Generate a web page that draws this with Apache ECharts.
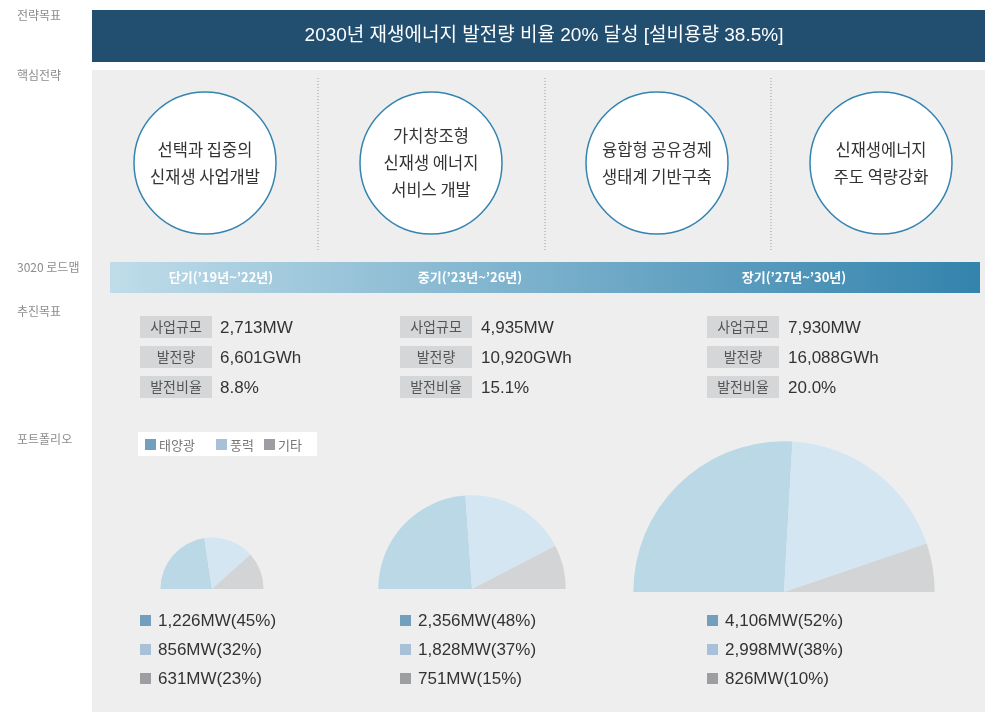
<!doctype html>
<html>
<head>
<meta charset="utf-8">
<title>재생에너지 3020 로드맵</title>
<style>html,body{margin:0;padding:0;background:#fff}#main{width:985px;height:712px}</style>
</head>
<body>
<div id="main"></div>
<script src="https://cdn.jsdelivr.net/npm/echarts@6/dist/echarts.min.js"></script>
<script>
var goalText = '2030년 재생에너지 발전량 비율 20% 달성 [설비용량 38.5%]';
var rowLabels = ['전략목표', '핵심전략', '3020 로드맵', '추진목표', '포트폴리오'];
var strategies = ['선택과 집중의\n신재생 사업개발', '가치창조형\n신재생 에너지\n서비스 개발', '융합형 공유경제\n생태계 기반구축', '신재생에너지\n주도 역량강화'];
var phases = ['단기(’19년~’22년)', '중기(’23년~’26년)', '장기(’27년~’30년)'];
var targetNames = ['사업규모', '발전량', '발전비율'];
var capacity = [2713, 4935, 7930];      // MW
var generation = [6601, 10920, 16088];  // GWh
var ratio = [8.8, 15.1, 20.0];          // %
var sources = ['태양광', '풍력', '기타'];
var solar = [1226, 2356, 4106];
var wind = [856, 1828, 2998];
var other = [631, 751, 826];
var solarPct = [45, 48, 52];
var windPct = [32, 37, 38];
var otherPct = [23, 15, 10];

var FONT = '"Noto Sans CJK KR", "Noto Sans", sans-serif';
var NUMFONT = '"Liberation Sans", "Noto Sans CJK KR", sans-serif';
var sliceColors = ['#bad8e5', '#d4e6f2', '#d3d4d6'];
var keyColors = ['#739fbf', '#a9c1d8', '#9d9ea2'];

var chart = echarts.init(document.getElementById('main'), null, { renderer: 'canvas' });

function fmt(n) { return n.toLocaleString('en-US'); }

var g = [];
// row labels on the left
var labelY = [17, 77, 269, 313, 441];
rowLabels.forEach(function (t, i) {
    g.push({ type: 'text', left: 17, top: labelY[i] - 8,
        style: { text: t, fill: '#8c8c8c', font: '12px ' + FONT } });
});
// goal banner
g.push({ type: 'rect', shape: { x: 92, y: 10, width: 893, height: 52 }, style: { fill: '#224f70' } });
g.push({ type: 'text', x: 544, y: 36,
    style: { text: goalText, fill: '#fff', font: '19px ' + NUMFONT, align: 'center', verticalAlign: 'middle' } });
// grey panel
g.push({ type: 'rect', shape: { x: 92, y: 70, width: 893, height: 642 }, style: { fill: '#eeeeee' } });
// strategy circles
var circleX = [205, 431, 657, 881];
strategies.forEach(function (t, i) {
    g.push({ type: 'circle', shape: { cx: circleX[i], cy: 163, r: 71 },
        style: { fill: '#fff', stroke: '#3484b0', lineWidth: 1.5 } });
    g.push({ type: 'text', x: circleX[i], y: 163,
        style: { text: t, fill: '#333', font: '16.5px ' + FONT, lineHeight: 27, align: 'center', verticalAlign: 'middle' } });
});
[318, 545, 771].forEach(function (x) {
    g.push({ type: 'line', shape: { x1: x, y1: 78, x2: x, y2: 250 },
        style: { stroke: '#9a9a9a', lineWidth: 1, lineDash: [1, 2] } });
});
// roadmap bar
g.push({ type: 'rect', shape: { x: 110, y: 262, width: 870, height: 31 },
    style: { fill: new echarts.graphic.LinearGradient(0, 0, 1, 0, [
        { offset: 0, color: '#bfdce9' }, { offset: 1, color: '#3383ad' }]) } });
var phaseX = [221, 470, 794];
phases.forEach(function (t, i) {
    g.push({ type: 'text', x: phaseX[i], y: 277,
        style: { text: t, fill: '#fff', font: 'bold 13px ' + FONT, align: 'center', verticalAlign: 'middle' } });
});
// targets
var boxX = [140, 400, 707];
var valX = [220, 481, 788];
var rowY = [316, 346, 376];
boxX.forEach(function (bx, c) {
    var vals = [fmt(capacity[c]) + 'MW', fmt(generation[c]) + 'GWh', ratio[c].toFixed(1) + '%'];
    targetNames.forEach(function (n, r) {
        g.push({ type: 'rect', shape: { x: bx, y: rowY[r], width: 72, height: 22 }, style: { fill: '#d5d6d8' } });
        g.push({ type: 'text', x: bx + 36, y: rowY[r] + 11,
            style: { text: n, fill: '#555', font: '14px ' + FONT, align: 'center', verticalAlign: 'middle' } });
        g.push({ type: 'text', x: valX[c], y: rowY[r] + 12,
            style: { text: vals[r], fill: '#333', font: '17px ' + NUMFONT, verticalAlign: 'middle' } });
    });
});
// legend
g.push({ type: 'rect', shape: { x: 138, y: 432, width: 179, height: 24 }, style: { fill: '#fff' } });
var keyX = [145, 216, 264];
sources.forEach(function (s, i) {
    g.push({ type: 'rect', shape: { x: keyX[i], y: 439, width: 11, height: 11 }, style: { fill: keyColors[i] } });
    g.push({ type: 'text', x: keyX[i] + 14, y: 445,
        style: { text: s, fill: '#777', font: '13px ' + FONT, verticalAlign: 'middle' } });
});
// portfolio labels
var sqX = [140, 400, 707];
var lineY = [620, 649, 678];
sqX.forEach(function (x, c) {
    var txt = [fmt(solar[c]) + 'MW(' + solarPct[c] + '%)', fmt(wind[c]) + 'MW(' + windPct[c] + '%)',
        fmt(other[c]) + 'MW(' + otherPct[c] + '%)'];
    txt.forEach(function (t, r) {
        g.push({ type: 'rect', shape: { x: x, y: lineY[r] - 5, width: 11, height: 11 }, style: { fill: keyColors[r] } });
        g.push({ type: 'text', x: x + 18, y: lineY[r] + 1,
            style: { text: t, fill: '#333', font: '17px ' + NUMFONT, verticalAlign: 'middle' } });
    });
});

// half pies, radius proportional to total capacity
var pieX = [212, 472, 784];
var pieY = [589, 589, 592];
var series = capacity.map(function (total, c) {
    return {
        type: 'pie',
        center: [pieX[c], pieY[c]],
        radius: [0, total * 0.019],
        startAngle: 180,
        endAngle: 0,
        silent: true,
        label: { show: false },
        labelLine: { show: false },
        itemStyle: { borderWidth: 0 },
        z: 5,
        data: [
            { name: sources[0], value: solar[c], itemStyle: { color: sliceColors[0] } },
            { name: sources[1], value: wind[c], itemStyle: { color: sliceColors[1] } },
            { name: sources[2], value: other[c], itemStyle: { color: sliceColors[2] } }
        ]
    };
});

chart.setOption({
    animation: false,
    graphic: { elements: g },
    series: series
});
window.onresize = chart.resize;
</script>
</body>
</html>
